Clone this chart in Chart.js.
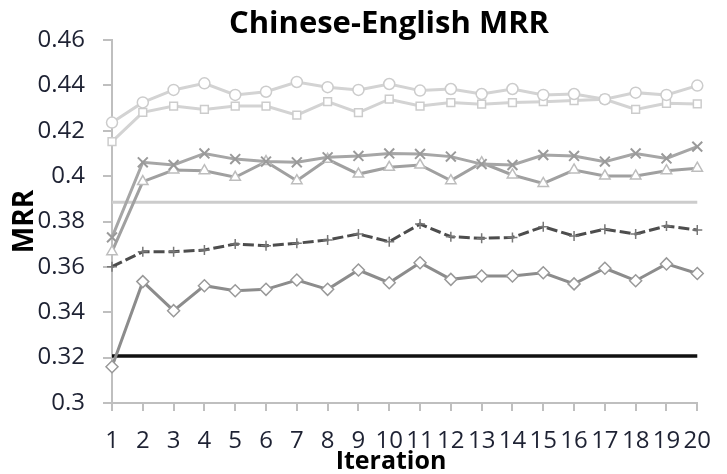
<!DOCTYPE html>
<html>
<head>
<meta charset="utf-8">
<script src="https://cdn.jsdelivr.net/npm/chart.js@4"></script>
<style>
  html, body { margin: 0; padding: 0; background: #fff; }
  #wrap { width: 727px; height: 474px; position: relative; }
</style>
</head>
<body>
<div id="wrap"><canvas id="mrrChart"></canvas></div>
<script>
const iterations = ["1", "2", "3", "4", "5", "6", "7", "8", "9", "10",
  "11", "12", "13", "14", "15", "16", "17", "18", "19", "20"];
const yTickValues = [0.3, 0.32, 0.34, 0.36, 0.38, 0.4, 0.42, 0.44, 0.46];

const circleSeries = [0.4236, 0.4325, 0.438, 0.4409, 0.4358, 0.4372, 0.4415, 0.4392, 0.438, 0.4406,
  0.4377, 0.4384, 0.4362, 0.4384, 0.4358, 0.4362, 0.4339, 0.4368, 0.4358, 0.4399];
const squareSeries = [0.4152, 0.4281, 0.4309, 0.4294, 0.4309, 0.4309, 0.4269, 0.4328, 0.428, 0.4339,
  0.4309, 0.4324, 0.4317, 0.4324, 0.4328, 0.4333, 0.4339, 0.4294, 0.4321, 0.4318];
const crossSeries = [0.373, 0.4061, 0.4049, 0.41, 0.4075, 0.4064, 0.4061, 0.4083, 0.4089, 0.41,
  0.4098, 0.4086, 0.4053, 0.4049, 0.4093, 0.4089, 0.4064, 0.41, 0.4078, 0.413];
const triangleSeries = [0.3667, 0.3976, 0.4027, 0.4024, 0.3995, 0.4064, 0.398, 0.4074, 0.4009, 0.4039,
  0.4049, 0.398, 0.4059, 0.4005, 0.3968, 0.4027, 0.4001, 0.4001, 0.4024, 0.4035];
const plusSeries = [0.3601, 0.3667, 0.3667, 0.3674, 0.3701, 0.3693, 0.3704, 0.3719, 0.3745, 0.3711,
  0.3789, 0.3733, 0.3726, 0.373, 0.3777, 0.3736, 0.3766, 0.3745, 0.378, 0.3763];
const diamondSeries = [0.316, 0.3535, 0.3407, 0.3517, 0.3495, 0.3501, 0.3542, 0.3501, 0.3586, 0.353,
  0.3618, 0.3545, 0.356, 0.356, 0.3574, 0.3525, 0.3594, 0.3539, 0.3613, 0.3571];
const grayBaseline = [0.3885, 0.3885];
const blackBaseline = [0.3207, 0.3207];

const chartTitle = "Chinese-English MRR";
const xAxisTitle = "Iteration";

const axisGray = "#bfbfbf";
const tickColor = "#1e2233";
const fontFamily = "'Open Sans', Lato, sans-serif";

function flatLine(values) {
  return [
    { x: iterations[0], y: values[0] },
    { x: iterations[iterations.length - 1], y: values[1] },
  ];
}

function markerSeries(label, data, line, marker, style, radius, extra = {}) {
  return {
    label,
    data,
    borderColor: line,
    borderWidth: 3,
    pointStyle: style,
    pointRadius: radius,
    pointBorderColor: marker,
    pointBackgroundColor: "#ffffff",
    pointBorderWidth: 1.5,
    tension: 0,
    ...extra,
  };
}

const datasets = [
  markerSeries("circle", circleSeries, "#d3d3d3", "#cccccc", "circle", 5.5),
  markerSeries("square", squareSeries, "#d3d3d3", "#cccccc", "rect", 5.5),
  markerSeries("cross", crossSeries, "#a6a6a6", "#9a9a9a", "crossRot", 7, { pointBorderWidth: 2 }),
  markerSeries("triangle", triangleSeries, "#a0a0a0", "#bdbdbd", "triangle", 6),
  {
    label: "gray",
    data: flatLine(grayBaseline),
    borderColor: "#cccccc",
    borderWidth: 3,
    pointRadius: 0,
  },
  markerSeries("plus", plusSeries, "#4d4d4d", "#777777", "cross", 5, { borderDash: [11, 4] }),
  markerSeries("diamond", diamondSeries, "#8c8c8c", "#999999", "rectRot", 6),
  {
    label: "black",
    data: flatLine(blackBaseline),
    borderColor: "#111111",
    borderWidth: 3.5,
    pointRadius: 0,
  },
];

// title and x-axis caption sit left of the plot centre, as in the original
const captions = {
  id: "captions",
  afterDraw(chart) {
    const { ctx } = chart;
    ctx.save();
    ctx.fillStyle = "#000000";
    ctx.textAlign = "center";
    ctx.textBaseline = "middle";
    ctx.font = `bold 31px ${fontFamily}`;
    ctx.fillText(chartTitle, 389, 24);
    ctx.font = `bold 25px ${fontFamily}`;
    ctx.fillText(xAxisTitle, 391, 462);
    ctx.restore();
  },
};

new Chart(document.getElementById("mrrChart").getContext("2d"), {
  type: "line",
  data: { labels: iterations, datasets },
  plugins: [captions],
  options: {
    responsive: true,
    maintainAspectRatio: false,
    animation: false,
    layout: { padding: { left: 0, right: 18, top: 40, bottom: 0 } },
    plugins: {
      legend: { display: false },
      tooltip: { enabled: false },
      title: { display: false },
    },
    scales: {
      x: {
        type: "category",
        offset: false,
        afterFit(scale) { scale.height = 71; },
        border: { display: true, color: axisGray, width: 2 },
        grid: { display: true, drawOnChartArea: false, drawTicks: true, tickLength: 8, color: axisGray, lineWidth: 2 },
        ticks: {
          autoSkip: false,
          maxRotation: 0,
          minRotation: 0,
          color: tickColor,
          padding: 16,
          font: { family: fontFamily, size: 24 },
        },
      },
      y: {
        min: 0.3,
        max: 0.46,
        afterFit(scale) { scale.width = 112; },
        afterBuildTicks(scale) { scale.ticks = yTickValues.map((value) => ({ value })); },
        border: { display: true, color: axisGray, width: 2 },
        grid: { display: true, drawOnChartArea: false, drawTicks: true, tickLength: 9, color: axisGray, lineWidth: 2 },
        ticks: {
          color: tickColor,
          padding: 18,
          font: { family: fontFamily, size: 24 },
          callback(value) { return String(Number(value.toFixed(2))); },
        },
        title: {
          display: true,
          text: "MRR",
          color: "#000000",
          font: { family: fontFamily, size: 28, weight: "bold", lineHeight: 1.2 },
          padding: { top: 8.2, bottom: 0 },
        },
      },
    },
  },
});
</script>
</body>
</html>
